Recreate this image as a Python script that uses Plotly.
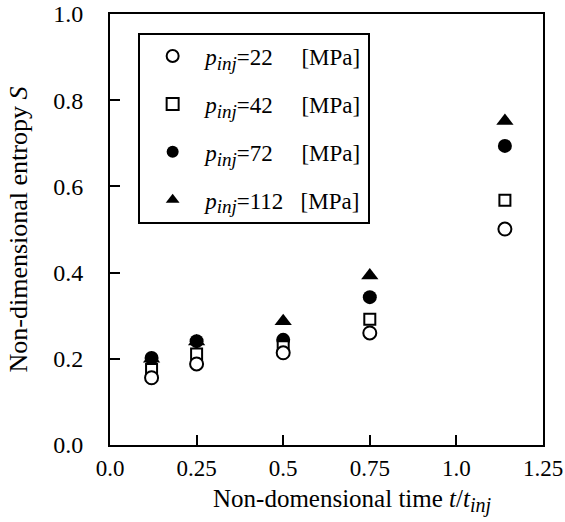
import plotly.graph_objects as go

t = [0.12, 0.25, 0.5, 0.75, 1.14]
s_22 = [0.156, 0.188, 0.214, 0.260, 0.501]
s_42 = [0.175, 0.211, 0.228, 0.292, 0.568]
s_72 = [0.202, 0.241, 0.244, 0.343, 0.694]
s_112 = [0.200, 0.240, 0.287, 0.393, 0.752]
pressures = ["22", "42", "72", "112"]
xtick_vals = [0, 0.25, 0.5, 0.75, 1.0, 1.25]
xtick_text = ["0.0", "0.25", "0.5", "0.75", "1.0", "1.25"]

FONT = "Liberation Serif"
sp = "&nbsp;"

def lab(p):
    pad = sp * (5 if len(p) == 2 else 3)
    return (f"<i>p</i><sub><span style='font-size:19px'><i>inj</i></span></sub>"
            f"={p}{pad}[MPa]")

series = [
    (s_112, "112", dict(symbol="triangle-up", size=15, color="black", line=dict(width=0)), 4),
    (s_72, "72", dict(symbol="circle", size=14, color="black", line=dict(width=0)), 3),
    (s_42, "42", dict(symbol="square", size=11, color="white", line=dict(width=2, color="black")), 2),
    (s_22, "22", dict(symbol="circle", size=13, color="white", line=dict(width=2, color="black")), 1),
]

fig = go.Figure()
for ys, p, mk, rank in series:
    fig.add_trace(go.Scatter(
        x=t, y=ys, mode="markers", marker=mk, name=lab(p),
        legendgroup=p, legendrank=rank,
    ))

fig.add_annotation(
    text=("Non-domensional time <i>t</i>/<i>t</i>"
          "<sub><span style='font-size:20px'><i>inj</i></span></sub>"),
    xref="paper", yref="paper", x=0.56, y=-0.172,
    xanchor="center", yanchor="bottom", showarrow=False,
    font=dict(family=FONT, size=25, color="black"),
)

fig.update_layout(
    width=565, height=522,
    margin=dict(l=110, r=22, t=14, b=77),
    plot_bgcolor="white", paper_bgcolor="white",
    font=dict(family=FONT, size=24, color="black"),
    showlegend=True,
    legend=dict(
        x=0.065, y=0.957, xanchor="left", yanchor="top",
        bgcolor="white", bordercolor="black", borderwidth=2,
        font=dict(family=FONT, size=23),
        tracegroupgap=15, itemsizing="constant", itemwidth=55,
    ),
    xaxis=dict(
        range=[0, 1.25], tickvals=xtick_vals, ticktext=xtick_text,
        ticks="inside", ticklen=10, tickwidth=2, tickcolor="black",
        showline=True, linewidth=2, linecolor="black", mirror=True,
        showgrid=False, zeroline=False, ticklabelstandoff=1,
        automargin=False, tickfont=dict(size=23),
    ),
    yaxis=dict(
        range=[0, 1.0], dtick=0.2, tickformat=".1f",
        ticks="inside", ticklen=10, tickwidth=2, tickcolor="black",
        showline=True, linewidth=2, linecolor="black", mirror=True,
        showgrid=False, zeroline=False, ticklabelstandoff=20,
        automargin=False, tickfont=dict(size=24),
        title=dict(text="Non-dimensional entropy <i>S</i>",
                   font=dict(family=FONT, size=26), standoff=18),
    ),
)

fig.write_html("out.html", config={"displayModeBar": False},
               post_script="document.body.style.margin='0';")
